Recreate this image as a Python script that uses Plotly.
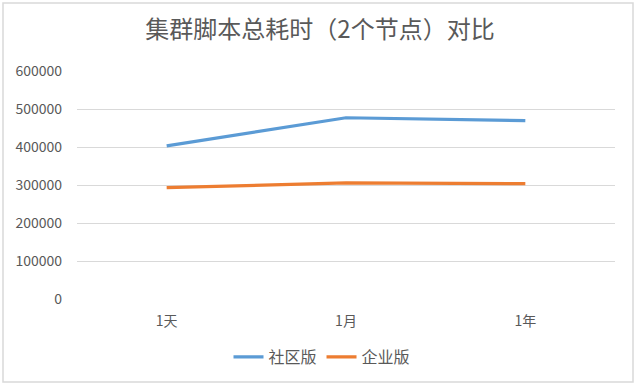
import plotly.graph_objects as go

categories = ["1天", "1月", "1年"]
community = [403000, 477000, 469500]
enterprise = [293000, 305500, 303500]
series_names = ["社区版", "企业版"]
y_ticks = [0, 100000, 200000, 300000, 400000, 500000, 600000]

FONT = "Noto Sans CJK SC"
GRAY = "#595959"

fig = go.Figure()
fig.add_trace(go.Scatter(x=categories, y=community, name=series_names[0], mode="lines",
                         line=dict(color="#5B9BD5", width=3.2)))
fig.add_trace(go.Scatter(x=categories, y=enterprise, name=series_names[1], mode="lines",
                         line=dict(color="#ED7D31", width=3.2)))

L, R, T, B = 77, 25, 71, 90
W, H = 640, 389
pw, ph = W - L - R, H - T - B

def px_x(p):
    return (p - L) / pw

def px_y(p):
    return (H - B - p) / ph

fig.update_layout(
    width=W, height=H,
    margin=dict(l=L, r=R, t=T, b=B),
    paper_bgcolor="white", plot_bgcolor="white",
    font=dict(family=FONT, color=GRAY, size=14),
    title=dict(text="集群脚本总耗时（2个节点）对比", x=0.5, xanchor="center",
               y=1 - 30 / H, yanchor="middle", font=dict(size=24, color=GRAY, family=FONT)),
    showlegend=True,
    legend=dict(orientation="h", x=px_x(322), xanchor="center", y=px_y(357), yanchor="middle",
                font=dict(size=16, color=GRAY)),
    xaxis=dict(type="category", range=[-0.5, 2.5], showgrid=False, zeroline=False,
               showline=False, ticks="", tickfont=dict(size=14, color=GRAY),
               ticklabelstandoff=12),
    yaxis=dict(range=[0, 600000], tickvals=y_ticks, ticktext=[str(v) for v in y_ticks],
               showgrid=True, gridcolor="#D9D9D9", gridwidth=1, zeroline=False,
               showline=False, ticks="", tickfont=dict(size=14, color=GRAY),
               ticklabelstandoff=14),
    shapes=[dict(type="rect", xref="paper", yref="paper",
                 x0=px_x(3), x1=px_x(633), y0=px_y(382), y1=px_y(3),
                 line=dict(color="#D9D9D9", width=1.5), fillcolor="rgba(0,0,0,0)",
                 layer="below")],
)

fig.write_html("out.html", config={"displayModeBar": False},
               post_script="document.body.style.margin='0';document.body.style.overflow='hidden';")
